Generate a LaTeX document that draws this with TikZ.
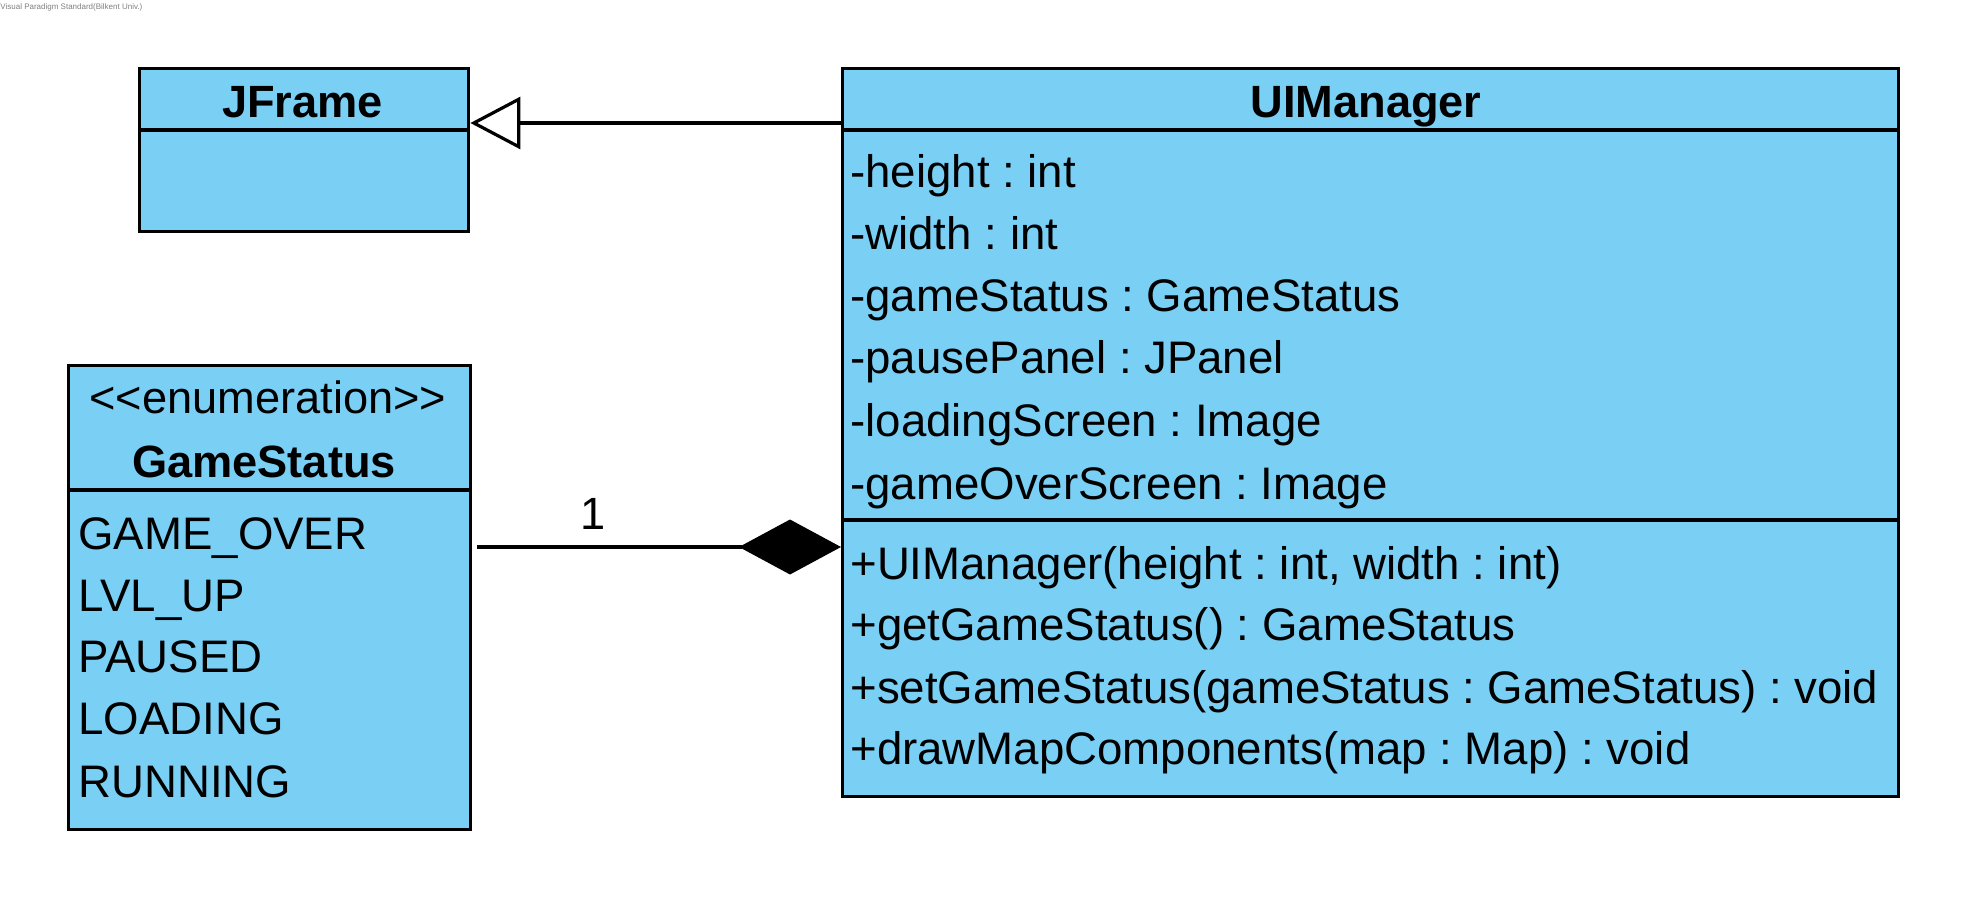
\documentclass[tikz,border=0pt]{standalone}
\usepackage{fontspec}
\setmainfont{Liberation Sans}
\usetikzlibrary{arrows.meta}
\definecolor{classfill}{RGB}{122,207,244}
\frenchspacing
\begin{document}
\begin{tikzpicture}[x=0.5pt,y=-0.5pt,
  classbox/.style={draw=black, fill=classfill, line width=1.7pt, rectangle, inner sep=0pt, anchor=north west},
  sepline/.style={line width=1.7pt},
  member/.style={anchor=base west, inner sep=0pt, font=\fontsize{22.8pt}{27pt}\selectfont},
  title/.style={anchor=base, inner sep=0pt, font=\fontsize{22.6pt}{27pt}\selectfont\bfseries},
  stereo/.style={anchor=base, inner sep=0pt, font=\fontsize{22.6pt}{27pt}\selectfont},
  conn/.style={line width=1.6pt}]
\useasboundingbox (0,0) rectangle (1968,897);
\fill[white] (0,0) rectangle (1968,897);

% tool watermark
\node[anchor=base west, inner sep=0pt, text=gray, font=\fontsize{4pt}{5pt}\selectfont] (wm) at (0,10) {Visual Paradigm Standard(Bilkent Univ.)};

% JFrame class
\node[classbox, minimum width=164.5pt, minimum height=81.5pt] (jframe) at (138,67) {};
\draw[sepline] (138,130) -- (467,130);
\node[title] (jframeT) at (302.5,118) {JFrame};

% UIManager class
\node[classbox, minimum width=528pt, minimum height=364pt] (uim) at (841,67) {};
\draw[sepline] (841,130) -- (1897,130);
\draw[sepline] (841,520) -- (1900,520);
\node[title] (uimT) at (1366,118) {UIManager};
\node[member] (a1) at (850,188) {-height : int};
\node[member] (a2) at (850,250) {-width : int};
\node[member] (a3) at (850,312) {-gameStatus : GameStatus};
\node[member] (a4) at (850,374) {-pausePanel : JPanel};
\node[member] (a5) at (850,437) {-loadingScreen : Image};
\node[member] (a6) at (850,499) {-gameOverScreen : Image};
\node[member] (o1) at (850,579) {+UIManager(height : int, width : int)};
\node[member] (o2) at (850,640) {+getGameStatus() : GameStatus};
\node[member] (o3) at (850,703) {+setGameStatus(gameStatus : GameStatus) : void};
\node[member] (o4) at (850,764) {+drawMapComponents(map : Map) : void};

% GameStatus enumeration
\node[classbox, minimum width=201pt, minimum height=232pt] (gs) at (67,364) {};
\draw[sepline] (67,490) -- (469,490);
\node[stereo] (gsS) at (268,414) {<{}<enumeration>{}>};
\node[title] (gsT) at (264,478) {GameStatus};
\node[member] (e1) at (78,549) {GAME\_OVER};
\node[member] (e2) at (78,611) {LVL\_UP};
\node[member] (e3) at (78,672) {PAUSED};
\node[member] (e4) at (78,734) {LOADING};
\node[member] (e5) at (78,797) {RUNNING};

% generalization UIManager -> JFrame
\draw[conn, -{Triangle[open, length=25pt, width=26pt, line width=1.6pt]}]
  (uim.west |- 0,123) -- (jframe.east |- 0,123);

% composition GameStatus <>-- UIManager
\coordinate (cs) at (477,547);
\draw[conn, -{Diamond[length=51pt, width=27.5pt]}] (cs) -- (uim.west |- cs);
\node[stereo] (mult) at (593,529) {1};
\end{tikzpicture}
\end{document}
